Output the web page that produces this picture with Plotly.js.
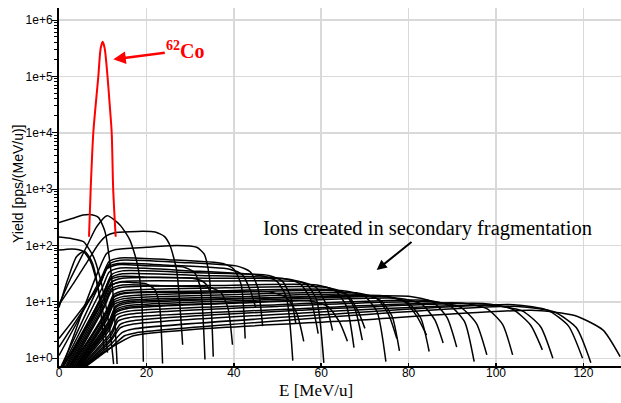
<!DOCTYPE html>
<html><head><meta charset="utf-8">
<script src="https://cdn.plot.ly/plotly-3.0.1.min.js"></script>
<style>html,body{margin:0;padding:0;background:#fff}#chart{width:621px;height:403px}</style>
</head><body><div id="chart"></div>
<script>
// 62Co primary beam
const co62E = [6.87, 7.25, 7.85, 8.4, 9.0, 9.54, 10.0, 10.45, 11.1, 11.6, 12.06, 12.4, 12.97];
const co62Y = [143, 1000, 10000, 31600, 100000, 316000, 410000, 316000, 100000, 31600, 10000, 1000, 143];

// low-energy, high-yield ions
const earlyE = [
  [0, 3, 5.5, 7.1, 9, 10.5, 11.8, 12.6, 13.3],
  [0, 2.5, 6.3, 8.6, 11, 14, 16.2, 17.9, 18.9, 19.3],
  [0, 3, 5.6, 7.9, 9.5, 10.8, 11.8, 12.5],
  [0, 3, 5.5, 7.2, 8.8, 10.1, 11.1],
  [0, 2, 4, 5.8, 7.6, 9.2, 10.3],
  [0, 3.5, 6.7, 9, 10.8, 13, 18, 22, 24.1, 25.4, 26.9, 28.3],
  [1, 5, 9, 10.9, 13, 20, 27, 31.5, 33.2, 34.4, 35.3]
];
const earlyY = [
  [257, 302, 347, 355, 316, 178, 39.8, 7.94, 0.79],
  [8.9, 24.5, 95, 214, 339, 229, 126, 47.9, 12.3, 0.87],
  [141, 132, 117, 63, 25, 7.9, 2.5, 0.79],
  [83.2, 87.1, 79.4, 52.5, 20.0, 6.31, 1.26],
  [7.94, 25.1, 63.1, 79.4, 50.1, 12.6, 1.41],
  [8.9, 22.4, 55, 105, 148, 170, 178, 174, 145, 100, 37, 1.74],
  [0.79, 5.6, 35.5, 72, 85, 93, 100, 93, 71, 28, 1.07]
];

// ions created in secondary fragmentation
const fragE = [
  [0, 9.8, 11.5, 14, 25, 37.5, 40, 41.7, 42.6],
  [0.5, 9.8, 11.5, 14, 28, 41, 43.8, 45.5, 46.6],
  [0, 9.5, 11, 13.5, 20, 28.5, 31, 32.4, 33.4],
  [0.8, 10, 11.5, 14, 30, 46, 49.8, 52, 53.5],
  [1.5, 10.5, 12, 14.5, 30, 48, 51.1, 53, 54.2],
  [1.8, 10.5, 12, 14.5, 32, 51, 55.2, 57.6, 59.3],
  [1, 10, 11.5, 14, 20, 30.5, 32.5, 33.8, 34.6],
  [2, 10.5, 12, 14.5, 35, 53, 56.8, 59, 60.6],
  [2.3, 10.5, 12, 14.5, 35, 55, 58.8, 61, 62.6],
  [2.5, 10.5, 12, 14.5, 25, 34.5, 37.1, 38.7, 39.7],
  [2.8, 10.5, 12, 14.5, 35, 59, 63.2, 65.8, 67.5],
  [3, 11, 12.5, 15, 38, 61, 65.2, 67.7, 69.4],
  [3.3, 11, 12.5, 15, 38, 62, 66, 68.4, 70],
  [3.5, 11, 12.5, 15, 40, 65, 69.9, 72.8, 74.8],
  [3.8, 11, 12.5, 15, 40, 68, 72.7, 75.4, 77.3],
  [4, 11, 12.5, 15, 40, 69, 73.5, 76.2, 77.9],
  [4.2, 11.5, 13, 15.5, 45, 74, 79, 82, 84.1],
  [4.4, 11.5, 13, 15.5, 45, 75, 79.8, 82.8, 84.7],
  [4.6, 11.5, 13, 15.5, 45, 78, 83, 86, 87.9],
  [4.8, 11.5, 13, 15.5, 50, 84, 89.5, 92.8, 95],
  [5, 12, 13.5, 16, 50, 86, 92, 95.5, 97.9],
  [5.2, 12, 13.5, 16, 55, 92, 97.9, 101.5, 103.8],
  [5.5, 12, 14, 16.5, 55, 97, 103.8, 107.9, 110.6],
  [5.8, 12, 14, 16.5, 55, 99, 106, 110.2, 113],
  [6, 12, 14.5, 17, 60, 104, 111.9, 116.6, 119.8],
  [6.2, 12, 15, 17.5, 60, 105, 113.4, 118.4, 121.7],
  [5.6, 11.7, 17, 32, 65, 108, 118, 124.5, 128.4],
  [1, 10, 11.5, 14, 17, 20, 21.9, 23, 23.7],
  [0, 9.5, 11, 13.5, 25, 39, 42, 43.8, 45],
  [2.6, 11, 12.5, 15, 30, 48, 52, 54.4, 56],
  [4.5, 11.5, 13, 15.5, 35, 57, 61.5, 64.2, 66],
  [4, 11.5, 13, 15.5, 45, 80, 85.5, 88.8, 91]
];
const fragY = [
  [1.12, 28.2, 52.5, 60.3, 56.2, 47.9, 38.0, 20.0, 2.24],
  [0.72, 25.1, 46.8, 55.0, 50.1, 42.7, 33.9, 17.8, 3.72],
  [2.24, 21.4, 38.9, 45.7, 43.7, 41.7, 33.1, 17.4, 0.95],
  [0.72, 18.6, 33.9, 39.8, 35.5, 29.5, 23.4, 12.3, 0.91],
  [0.72, 16.6, 30.2, 35.5, 33.1, 29.5, 23.4, 12.3, 4.07],
  [0.72, 14.8, 26.9, 31.6, 29.5, 26.3, 20.9, 11.0, 2.75],
  [0.72, 13.2, 24.0, 28.2, 27.5, 26.3, 24.0, 20.0, 15.1],
  [0.72, 12.3, 22.4, 26.3, 26.3, 25.1, 20.0, 10.5, 0.83],
  [0.72, 10.7, 19.5, 22.9, 23.4, 22.9, 18.2, 9.55, 3.09],
  [0.72, 9.33, 17.0, 20.0, 19.1, 18.2, 14.5, 7.59, 1.74],
  [0.72, 8.51, 15.5, 18.2, 19.5, 20.0, 15.8, 8.32, 1.55],
  [0.72, 7.41, 13.5, 15.8, 17.8, 18.2, 14.5, 7.59, 2.09],
  [0.72, 6.76, 12.3, 14.5, 15.8, 16.6, 13.2, 6.92, 3.39],
  [0.72, 5.89, 10.7, 12.6, 14.8, 15.8, 12.6, 6.61, 0.87],
  [0.72, 5.37, 9.77, 11.5, 13.5, 14.5, 11.5, 6.03, 2.24],
  [0.72, 4.90, 8.91, 10.5, 12.3, 13.5, 10.7, 5.62, 1.35],
  [0.72, 4.37, 7.94, 9.33, 11.5, 12.9, 10.2, 5.37, 2.57],
  [0.72, 3.98, 7.24, 8.51, 10.7, 12.3, 9.77, 5.13, 1.32],
  [0.72, 3.55, 6.46, 7.59, 9.77, 11.5, 9.12, 4.79, 1.86],
  [0.72, 3.16, 5.75, 6.76, 8.91, 10.7, 8.51, 4.47, 0.87],
  [0.72, 2.95, 5.25, 6.03, 8.32, 10.0, 7.94, 4.17, 1.15],
  [0.72, 2.63, 4.57, 5.25, 7.59, 9.55, 7.59, 3.98, 1.15],
  [0.72, 2.29, 3.98, 4.57, 7.08, 9.33, 7.41, 3.89, 1.41],
  [0.72, 2.09, 3.47, 3.98, 6.31, 8.71, 6.92, 3.63, 1.0],
  [0.72, 1.82, 2.88, 3.31, 5.89, 8.91, 7.08, 3.72, 1.0],
  [0.72, 1.58, 2.51, 2.82, 5.25, 8.32, 6.61, 3.47, 0.83],
  [0.72, 1.51, 2.51, 3.31, 4.57, 7.08, 5.75, 3.16, 1.07],
  [0.72, 10.5, 19.1, 22.4, 21.9, 20.9, 16.6, 8.71, 0.81],
  [1.58, 22.4, 40.7, 47.9, 44.7, 38.0, 30.2, 15.8, 7.94],
  [0.72, 6.61, 12.0, 14.1, 14.8, 15.1, 12.0, 6.31, 2.0],
  [0.72, 3.72, 6.76, 7.94, 9.33, 10.5, 8.32, 4.37, 2.0],
  [0.72, 4.68, 8.51, 10.0, 11.7, 12.6, 10.0, 5.25, 1.58]
];

const xTicks = [0, 20, 40, 60, 80, 100, 120];
const yTicks = [1, 10, 100, 1000, 10000, 100000, 1000000];
const yTickText = ['1e+0', '1e+1', '1e+2', '1e+3', '1e+4', '1e+5', '1e+6'];

const traces = [];
const blackLine = {color: '#000', width: 1.5, shape: 'spline', smoothing: 0.6};
earlyE.forEach((e, i) => traces.push({x: e, y: earlyY[i], type: 'scatter', mode: 'lines', line: blackLine, hoverinfo: 'skip'}));
fragE.forEach((e, i) => traces.push({x: e, y: fragY[i], type: 'scatter', mode: 'lines', line: blackLine, hoverinfo: 'skip'}));
traces.push({x: co62E, y: co62Y, type: 'scatter', mode: 'lines', line: {color: '#ff0000', width: 2, shape: 'spline', smoothing: 0.8}, hoverinfo: 'skip'});

const minorVals = [];
for (let d = 1; d <= 1e6; d *= 10) for (let k = 2; k <= 9; k++) minorVals.push(d * k);

const sans = 'Liberation Sans, Arial, sans-serif';
const serif = 'Liberation Serif, Times New Roman, serif';

const layout = {
  width: 621, height: 403,
  margin: {l: 59, r: 0, t: 8, b: 37},
  paper_bgcolor: '#fff', plot_bgcolor: '#fff',
  showlegend: false,
  xaxis: {
    range: [0, 128.6], tickvals: xTicks, ticktext: xTicks.map(String),
    ticks: 'inside', ticklen: 3, tickwidth: 1.5, tickcolor: '#000',
    ticklabelstandoff: -5,
    showline: true, linecolor: '#000', linewidth: 2,
    showgrid: true, gridcolor: '#d9d9d9', gridwidth: 1.5, zeroline: false,
    tickfont: {family: sans, size: 12, color: '#000'}
  },
  yaxis: {
    type: 'log', range: [-0.137, 6.213],
    tickvals: yTicks, ticktext: yTickText,
    ticks: 'outside', ticklen: 5, tickwidth: 1, tickcolor: '#000',
    ticklabelstandoff: -3,
    minor: {tickmode: 'array', tickvals: minorVals, ticks: 'outside', ticklen: 3, tickwidth: 1, tickcolor: '#000', showgrid: false},
    showline: true, linecolor: '#000', linewidth: 2,
    showgrid: true, gridcolor: '#d9d9d9', gridwidth: 1.5, zeroline: false,
    tickfont: {family: sans, size: 12, color: '#000'}
  },
  annotations: [
    {xref: 'paper', yref: 'paper', x: 0.0966, y: 0.8567, ax: 72, ay: -9, text: '<b><sup>62</sup>Co</b>', showarrow: true,
     arrowhead: 2, arrowsize: 1, arrowwidth: 2.5, arrowcolor: '#ff0000', standoff: 0,
     font: {family: serif, size: 20, color: '#ff0000'}},
    {xref: 'paper', yref: 'paper', x: 0.5653, y: 0.2682, ax: 51, ay: -41, text: 'Ions created in secondary fragmentation', showarrow: true,
     arrowhead: 2, arrowsize: 1, arrowwidth: 2, arrowcolor: '#000',
     font: {family: serif, size: 20.5, color: '#000'}},
    {xref: 'paper', yref: 'paper', x: 0.4573, y: -0.0698, yanchor: 'middle', text: 'E [MeV/u]', showarrow: false,
     font: {family: serif, size: 17, color: '#000'}},
    {xref: 'paper', yref: 'paper', x: -0.0730, y: 0.511, xanchor: 'center', yanchor: 'middle', textangle: -90,
     text: 'Yield [pps/(MeV/u)]', showarrow: false,
     font: {family: sans, size: 14, color: '#000'}}
  ]
};

Plotly.newPlot('chart', traces, layout, {staticPlot: true, displayModeBar: false});
</script>
</body></html>
